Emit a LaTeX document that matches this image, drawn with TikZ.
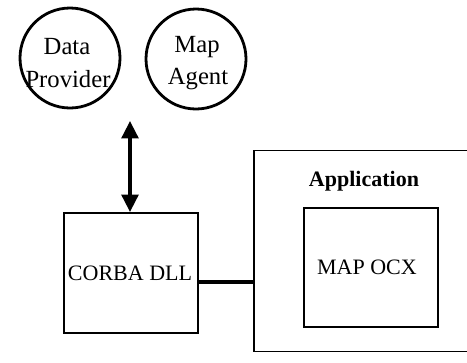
\documentclass[tikz,border=0pt]{standalone}
\usepackage{fontspec}
\setmainfont{Liberation Serif}
\usetikzlibrary{arrows.meta}
\begin{document}
\begin{tikzpicture}[x=0.75pt,y=-0.75pt,
  every node/.style={font=\fontsize{16.5}{19}\selectfont, inner sep=0pt},
  agent/.style={draw, line width=2.1pt, circle, minimum size=75pt},
  agenttext/.style={font=\fontsize{18.5}{22}\selectfont},
  block/.style={draw, line width=1.3pt, rectangle, anchor=north west},
  link/.style={line width=2.6pt},
  both ways/.style={{Triangle[length=13pt,width=12.5pt]}-{Triangle[length=13pt,width=12.5pt]}}]
\useasboundingbox (0,0) rectangle (467,362);
% agents on top
\node[agent] (dp) at (70,58) {};
\node[agenttext] (dp1) at (67,47) {Data};
\node[agenttext] (dp2) at (68,79) {Provider};
\node[agent] (ma) at (196,59) {};
\node[agenttext] (ma1) at (197,47) {Map};
\node[agenttext] (ma2) at (198,79) {Agent};
% CORBA layer
\node[block, minimum width=100.5pt, minimum height=90pt] (dll) at (63,212) {};
\node (dlllabel) at (130,273) {CORBA DLL};
% application with embedded control (right side runs past the page edge)
\node[block, minimum width=171pt, minimum height=150.75pt] (app) at (253,149.5) {};
\node[font=\fontsize{16.5}{19}\selectfont\bfseries] (apptitle) at (364,181) {Application};
\node[block, minimum width=100.5pt, minimum height=89.25pt] (ocx) at (303,207) {};
\node (ocxlabel) at (367,267) {MAP OCX};
% connectors
\coordinate (arrtop) at (130,121);
\draw[link, both ways] (arrtop) -- (dll.north -| arrtop);
\coordinate (joinL) at (197,282);
\draw[link] (joinL) -- (joinL -| app.west);
\end{tikzpicture}
\end{document}
